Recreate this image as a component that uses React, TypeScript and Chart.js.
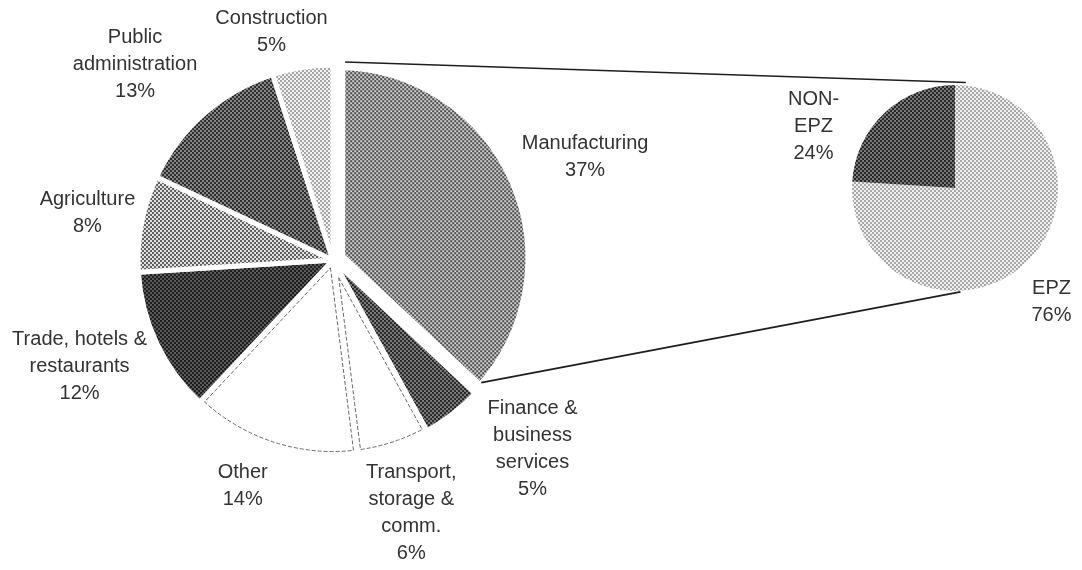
import React, { useEffect, useRef } from "react";
import { Chart, registerables } from "chart.js";

Chart.register(...registerables);

// ---------- data ----------
const SECTORS = [
  "Manufacturing",
  "Finance & business services",
  "Transport, storage & comm.",
  "Other",
  "Trade, hotels & restaurants",
  "Agriculture",
  "Public administration",
  "Construction",
];
const SECTOR_SHARES = [37, 5, 6, 14, 12, 8, 13, 5];
const SECTOR_LABEL_LINES = [
  ["Manufacturing"],
  ["Finance &", "business", "services"],
  ["Transport,", "storage &", "comm."],
  ["Other"],
  ["Trade, hotels &", "restaurants"],
  ["Agriculture"],
  ["Public", "administration"],
  ["Construction"],
];

const MANUF_PARTS = ["EPZ", "NON-EPZ"];
const MANUF_SHARES = [76, 24];
const MANUF_LABEL_LINES = [["EPZ"], ["NON-", "EPZ"]];

// ---------- styles ----------
const W = 1082;
const H = 570;
const BIG_CENTER = [333, 260];
const BIG_RADIUS = 195;
const SMALL_CENTER = [955, 188];
const SMALL_RADIUS = 103;
const EXPLODE = 18; // chart.js arc offset option (drawn as offset/4 px)
const GAP = 5; // white gap between slices
const EXPLODED_BORDER = 16; // wider white rim on the exploded slice

// [background, dot] pairs, null = plain white slice with dashed outline
const BIG_FILLS: (string[] | null)[] = [
  ["#d2d2d2", "#4a4a4a"],
  ["#7a7a7a", "#2a2a2a"],
  null,
  null,
  ["#5a5a5a", "#1e1e1e"],
  ["#e0e0e0", "#606060"],
  ["#888888", "#2c2c2c"],
  ["#f2f2f2", "#a6a6a6"],
];
const SMALL_FILLS: string[][] = [
  ["#f0f0f0", "#a8a8a8"],
  ["#7a7a7a", "#262626"],
];
// label block centre relative to each slice's outer mid point
const BIG_LABEL_NUDGE = [
  [69, -24],
  [80, 35],
  [18, 68],
  [-30, 41],
  [-77, 23],
  [-54, -10],
  [-69, -49],
  [-31, -35],
];
const SMALL_LABEL_NUDGE = [
  [26, 39],
  [-71, 14],
];
const FONT = '20px "Liberation Sans", Arial, Helvetica, sans-serif';
const TEXT_COLOR = "#333333";
const LINE_H = 27;

function makePattern(bg: string, fg: string): CanvasPattern | string {
  const c = document.createElement("canvas");
  c.width = 4;
  c.height = 4;
  const g = c.getContext("2d");
  if (!g) return bg;
  g.fillStyle = bg;
  g.fillRect(0, 0, 4, 4);
  g.fillStyle = fg;
  g.fillRect(0, 0, 2, 2);
  g.fillRect(2, 2, 2, 2);
  return g.createPattern(c, "repeat") || bg;
}

function drawLabel(ctx: CanvasRenderingContext2D, lines: string[], cx: number, cy: number) {
  ctx.save();
  ctx.font = FONT;
  ctx.fillStyle = TEXT_COLOR;
  ctx.textAlign = "center";
  ctx.textBaseline = "middle";
  const n = lines.length;
  lines.forEach((t, i) => {
    ctx.fillText(t, cx, cy + (i - (n - 1) / 2) * LINE_H);
  });
  ctx.restore();
}

function insetWedge(
  ctx: CanvasRenderingContext2D,
  x: number,
  y: number,
  a0: number,
  a1: number,
  R: number,
  d: number
) {
  const alpha = a1 - a0;
  const mid = (a0 + a1) / 2;
  const apexDist = d / Math.sin(alpha / 2);
  const ax = x + apexDist * Math.cos(mid);
  const ay = y + apexDist * Math.sin(mid);
  const Rin = R - d;
  const t = Math.sqrt(Rin * Rin - d * d);
  const da = Math.atan2(d, t);
  ctx.beginPath();
  ctx.moveTo(ax, ay);
  ctx.lineTo(x + Rin * Math.cos(a0 + da), y + Rin * Math.sin(a0 + da));
  ctx.arc(x, y, Rin, a0 + da, a1 - da);
  ctx.closePath();
  ctx.stroke();
}

export default function App() {
  const bigRef = useRef<HTMLCanvasElement>(null);
  const smallRef = useRef<HTMLCanvasElement>(null);

  useEffect(() => {
    if (!bigRef.current || !smallRef.current) return;

    const smallPlugin = {
      id: "smallLabels",
      afterDatasetsDraw(chart: any) {
        const ctx = chart.ctx;
        const meta = chart.getDatasetMeta(0);
        meta.data.forEach((arc: any, i: number) => {
          const mid = (arc.startAngle + arc.endAngle) / 2;
          const mx = arc.x + arc.outerRadius * Math.cos(mid);
          const my = arc.y + arc.outerRadius * Math.sin(mid);
          const lines = [...MANUF_LABEL_LINES[i], `${MANUF_SHARES[i]}%`];
          drawLabel(ctx, lines, mx + SMALL_LABEL_NUDGE[i][0], my + SMALL_LABEL_NUDGE[i][1]);
        });
      },
    };

    const small = new Chart(smallRef.current, {
      type: "pie",
      data: {
        labels: MANUF_PARTS,
        datasets: [
          {
            data: MANUF_SHARES,
            backgroundColor: SMALL_FILLS.map((f) => makePattern(f[0], f[1])) as any,
            borderWidth: 0,
          },
        ],
      },
      options: {
        responsive: false,
        animation: false,
        events: [],
        radius: SMALL_RADIUS,
        layout: {
          padding: {
            left: 2 * SMALL_CENTER[0] - W,
            right: 0,
            top: 0,
            bottom: H - 2 * SMALL_CENTER[1],
          },
        },
        plugins: { legend: { display: false }, tooltip: { enabled: false } },
      } as any,
      plugins: [smallPlugin],
    });

    const bigPlugin = {
      id: "bigDecor",
      afterDatasetsDraw(chart: any) {
        const ctx: CanvasRenderingContext2D = chart.ctx;
        const meta = chart.getDatasetMeta(0);
        // dashed outlines for plain slices
        ctx.save();
        ctx.strokeStyle = "#6a6a6a";
        ctx.lineWidth = 1;
        ctx.setLineDash([4, 2]);
        meta.data.forEach((arc: any, i: number) => {
          if (BIG_FILLS[i]) return;
          insetWedge(ctx, arc.x, arc.y, arc.startAngle, arc.endAngle, arc.outerRadius, GAP / 2 + 1);
        });
        ctx.restore();

        // labels
        meta.data.forEach((arc: any, i: number) => {
          const mid = (arc.startAngle + arc.endAngle) / 2;
          const shift = (arc.options.offset || 0) / 4;
          const cx = arc.x + shift * Math.cos(mid);
          const cy = arc.y + shift * Math.sin(mid);
          const mx = cx + arc.outerRadius * Math.cos(mid);
          const my = cy + arc.outerRadius * Math.sin(mid);
          const lines = [...SECTOR_LABEL_LINES[i], `${SECTOR_SHARES[i]}%`];
          drawLabel(ctx, lines, mx + BIG_LABEL_NUDGE[i][0], my + BIG_LABEL_NUDGE[i][1]);
        });

        // connector lines from exploded slice to the breakdown pie
        const m = meta.data[0];
        const sm = small.getDatasetMeta(0).data[0] as any;
        if (m && sm) {
          const mid = (m.startAngle + m.endAngle) / 2;
          const shift = (m.options.offset || 0) / 4;
          const ax = m.x + shift * Math.cos(mid);
          const ay = m.y + shift * Math.sin(mid);
          const circ = m.endAngle - m.startAngle;
          const half = (m.options.borderWidth || 0) / 2;
          const rVis = m.outerRadius + shift * (1 - Math.sin(Math.min(Math.PI, circ))) - half;
          const a0 = m.startAngle;
          const a1 = m.endAngle;
          const p1 = [
            ax + (rVis + 8) * Math.cos(a0) - half * Math.sin(a0),
            ay + (rVis + 8) * Math.sin(a0) + half * Math.cos(a0),
          ];
          const p2 = [
            ax + (rVis + 2) * Math.cos(a1) + half * Math.sin(a1),
            ay + (rVis + 2) * Math.sin(a1) - half * Math.cos(a1),
          ];
          const sr = sm.outerRadius + 1;
          const top = -Math.PI / 2 + (6 * Math.PI) / 180;
          const bot = -Math.PI / 2 + (177 * Math.PI) / 180;
          const q1 = [sm.x + sr * Math.cos(top), sm.y + sr * Math.sin(top) - 2];
          const q2 = [sm.x + sr * Math.cos(bot), sm.y + sr * Math.sin(bot)];
          ctx.save();
          ctx.strokeStyle = "#1e1e1e";
          ctx.lineWidth = 1.6;
          ctx.beginPath();
          ctx.moveTo(p1[0], p1[1]);
          ctx.lineTo(q1[0], q1[1]);
          ctx.moveTo(p2[0], p2[1]);
          ctx.lineTo(q2[0], q2[1]);
          ctx.stroke();
          ctx.restore();
        }
      },
    };

    const big = new Chart(bigRef.current, {
      type: "pie",
      data: {
        labels: SECTORS,
        datasets: [
          {
            data: SECTOR_SHARES,
            backgroundColor: BIG_FILLS.map((f) => (f ? makePattern(f[0], f[1]) : "#ffffff")) as any,
            borderColor: "#ffffff",
            borderWidth: SECTOR_SHARES.map((_, i) => (i === 0 ? EXPLODED_BORDER : GAP)),
            offset: SECTOR_SHARES.map((_, i) => (i === 0 ? EXPLODE : 0)),
          },
        ],
      },
      options: {
        responsive: false,
        animation: false,
        events: [],
        radius: BIG_RADIUS,
        layout: {
          padding: {
            left: 0,
            right: W - 2 * BIG_CENTER[0],
            top: 0,
            bottom: H - 2 * BIG_CENTER[1],
          },
        },
        plugins: { legend: { display: false }, tooltip: { enabled: false } },
      } as any,
      plugins: [bigPlugin],
    });

    return () => {
      big.destroy();
      small.destroy();
    };
  }, []);

  return (
    <div
      style={{
        position: "fixed",
        left: 0,
        top: 0,
        width: W,
        height: H,
        background: "#ffffff",
        overflow: "hidden",
      }}
    >
      <canvas ref={bigRef} width={W} height={H} style={{ position: "absolute", left: 0, top: 0 }} />
      <canvas ref={smallRef} width={W} height={H} style={{ position: "absolute", left: 0, top: 0 }} />
    </div>
  );
}
